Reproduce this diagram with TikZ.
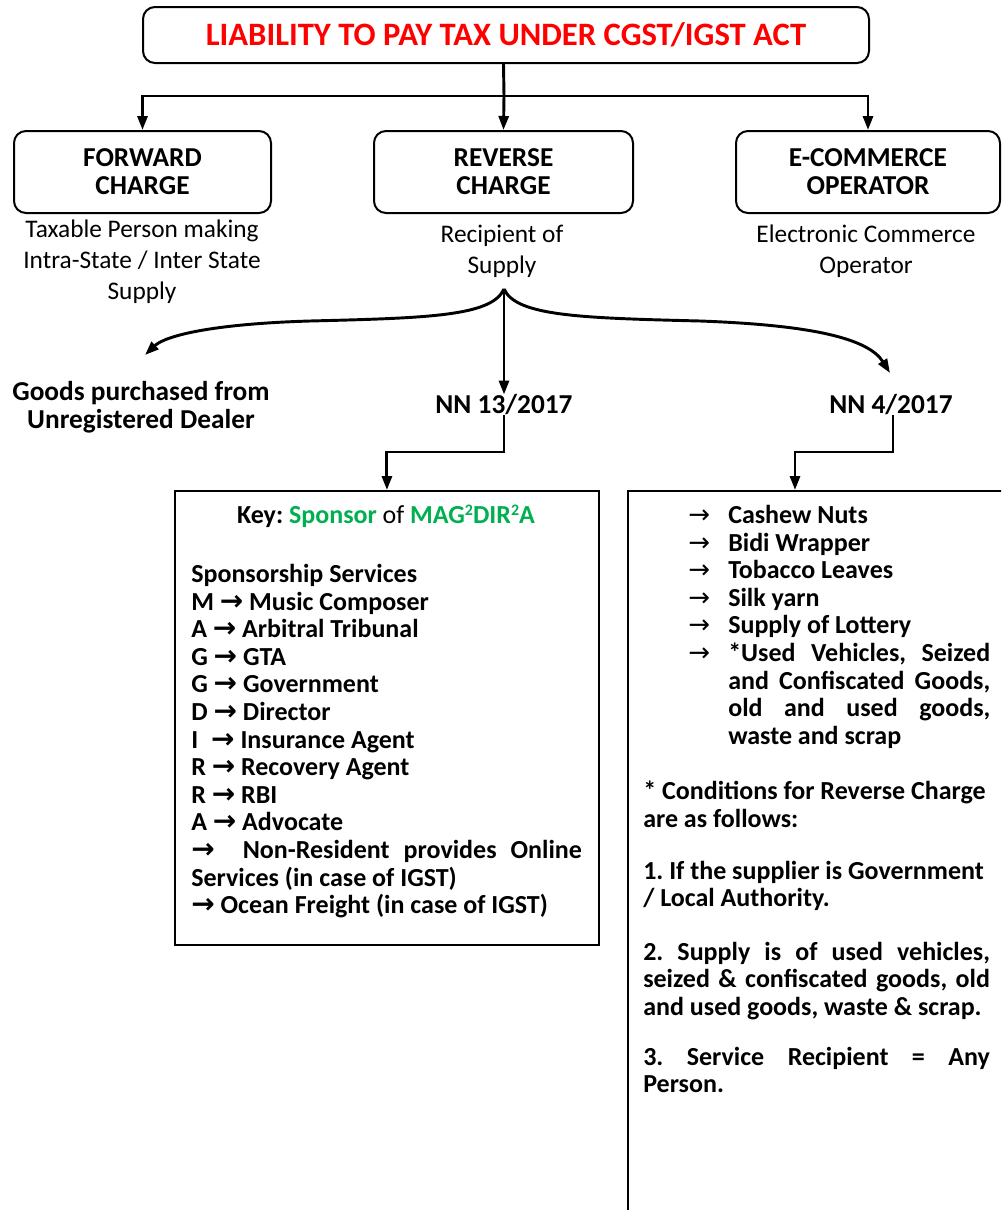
\documentclass[tikz,border=0pt]{standalone}
\usepackage{fontspec}
\usepackage{xcolor}
\usepackage{graphicx}
\setmainfont{Carlito}
\newfontfamily\symfont{DejaVu Sans}
\usetikzlibrary{arrows.meta}
\definecolor{headred}{RGB}{255,0,0}
\definecolor{keygreen}{RGB}{0,176,80}
\frenchspacing
% arrow glyphs used inside the lists
\newcommand\boldarr{{\symfont\bfseries\fontsize{21}{20.7}\selectfont →}}
\newcommand\thinarr{{\symfont\mdseries →}}
% small raised index
\newcommand\sqidx{\raisebox{5.5pt}{\fontsize{12}{12}\selectfont 2}}
\begin{document}
\begin{tikzpicture}[x=0.75pt,y=-0.75pt,
  headbox/.style={draw, line width=1.5pt, rounded corners=9pt, inner sep=0pt, align=center},
  headtext/.style={font=\bfseries\fontsize{20.5}{21}\selectfont},
  subtext/.style={align=center, inner sep=0pt, font=\fontsize{19}{23.2}\selectfont},
  branchtext/.style={align=center, inner sep=0pt, font=\bfseries\fontsize{20.5}{21}\selectfont},
  listbox/.style={draw, line width=1.4pt, inner sep=0pt},
  listtext/.style={align=left, inner sep=0pt, anchor=north west, font=\bfseries\fontsize{19.5}{20.7}\selectfont},
  link/.style={line width=2.2pt},
  tip/.style={-{Triangle[length=10.5pt,width=7.5pt]}}
]
\useasboundingbox (0,0) rectangle (1001,1210);
\clip (0,0) rectangle (1001,1210);

% top level
\node[headbox, minimum width=726*0.75pt, minimum height=56*0.75pt,
      font=\bfseries\fontsize{24.5}{26}\selectfont, text=headred] (title) at (506,35)
      {LIABILITY TO PAY TAX UNDER CGST/IGST ACT};

% three kinds of charge
\node[headbox, headtext, minimum width=257*0.75pt, minimum height=82*0.75pt] (fwd) at (142.5,172) {FORWARD\\CHARGE};
\node[headbox, headtext, minimum width=259*0.75pt, minimum height=82*0.75pt] (rev) at (503.5,172) {REVERSE\\CHARGE};
\node[headbox, headtext, minimum width=264*0.75pt, minimum height=82*0.75pt] (eco) at (868,172) {E-COMMERCE\\OPERATOR};

\node[subtext] (fwdsub) at (142,262) {Taxable Person making\\Intra-State / Inter State\\Supply};
\node[subtext] (revsub) at (502,251) {Recipient of\\Supply};
\node[subtext] (ecosub) at (866,251) {Electronic Commerce\\Operator};

\coordinate (junc) at (504,96);
\draw[link] (rev.north |- title.south) -- (junc);
\draw[link, tip] (junc) -| (fwd.north);
\draw[link, tip] (junc) -- (rev.north);
\draw[link, tip] (junc) -| (eco.north);

% reverse charge branches
\node[branchtext] (goods) at (141,407) {Goods purchased from\\Unregistered Dealer};
\node[branchtext] (nn13) at (504,405) {NN 13/2017};
\node[branchtext] (nn4) at (891,405) {NN 4/2017};

\coordinate (split) at (504,289);
\coordinate (goodstip) at (145,355);
\coordinate (nn4tip) at (890,373);
\draw[link, tip] (split) .. controls (492,316) and (430,318) .. (310,321)
                        .. controls (210,324) and (165,336) .. (goodstip);
\draw[link, tip] (split) -- (nn13.north);
\draw[link, tip] (split) .. controls (516,316) and (580,318) .. (700,321)
                        .. controls (810,325) and (868,338) .. (nn4tip);

% NN 13/2017 box
\node[listbox, minimum width=424*0.75pt, minimum height=454*0.75pt, anchor=north west] (lbox) at (174,490) {};
\node[anchor=base, inner sep=0pt, font=\fontsize{19.5}{20.7}\selectfont] (key) at (386,523)
  {\textbf{Key:} \textcolor{keygreen}{\textbf{Sponsor}} of \textcolor{keygreen}{\textbf{MAG\sqidx DIR\sqidx A}}};
\node[listtext] (lsvc) at (191,564) {Sponsorship Services\\
M \boldarr{} Music Composer\\
A \boldarr{} Arbitral Tribunal\\
G \boldarr{} GTA\\
G \boldarr{} Government\\
D \boldarr{} Director\\
I\hspace{0.5em}\boldarr{} Insurance Agent\\
R \boldarr{} Recovery Agent\\
R \boldarr{} RBI\\
A \boldarr{} Advocate\\
\makebox[293pt][s]{\boldarr{} \ Non-Resident provides Online}\\
Services (in case of IGST)\\
\boldarr{} Ocean Freight (in case of IGST)};

% NN 4/2017 box
\coordinate (rtop) at (795,490);
\node[listbox, minimum width=420*0.75pt, minimum height=760*0.75pt, anchor=north west] (rbox) at (627,490) {};
\node[listtext] (rlist) at (688,505) {\makebox[30pt][l]{\thinarr}Cashew Nuts\\
\makebox[30pt][l]{\thinarr}Bidi Wrapper\\
\makebox[30pt][l]{\thinarr}Tobacco Leaves\\
\makebox[30pt][l]{\thinarr}Silk yarn\\
\makebox[30pt][l]{\thinarr}Supply of Lottery\\
\makebox[30pt][l]{\thinarr}\makebox[196.5pt][s]{*Used Vehicles, Seized}\\
\hspace*{30pt}\makebox[196.5pt][s]{and Confiscated Goods,}\\
\hspace*{30pt}\makebox[196.5pt][s]{old and used goods,}\\
\hspace*{30pt}waste and scrap};
\node[listtext] (rcond) at (643,781) {* Conditions for Reverse Charge\\
are as follows:\\[18pt]
1. If the supplier is Government\\
/ Local Authority.\\[19.5pt]
\makebox[260pt][s]{2. Supply is of used vehicles,}\\
\makebox[260pt][s]{seized \& confiscated goods, old}\\
and used goods, waste \& scrap.\\[16.5pt]
\makebox[260pt][s]{3. Service Recipient = Any}\\
Person.};

\coordinate (e13) at (504,452);
\coordinate (e4) at (893,452);
\draw[link, tip] (nn13.south) -- (e13) -| (lbox.north);
\draw[link, tip] (nn4.south -| e4) -- (e4) -| (rtop);
\end{tikzpicture}
\end{document}
